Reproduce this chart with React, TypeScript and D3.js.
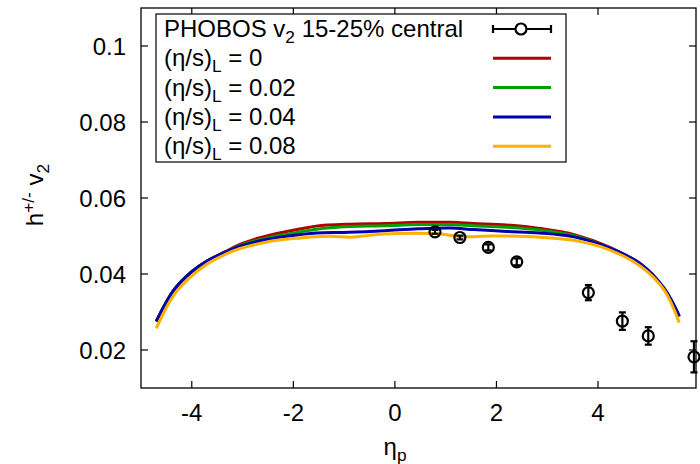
import * as d3 from "d3"

// PHOBOS v2 15-25% central
const dataEta = [0.79, 1.28, 1.84, 2.4, 3.81, 4.48, 4.99, 5.89]
const dataV2 = [0.0511, 0.0496, 0.047, 0.0432, 0.0351, 0.0276, 0.0237, 0.0182]
const dataErr = [0.0005, 0.0005, 0.0008, 0.0009, 0.002, 0.0023, 0.0023, 0.0041]

// model curves
const etaA = [-4.7, -4.35, -4.0, -3.7, -3.35, -3.05, -2.7, -2.45, -2.2, -1.85, -1.55, -0.9, -0.2, 0.45, 1.1, 1.55, 2.2, 2.85, 3.55, 4.2, 4.85, 5.3, 5.6]
const v2Eta0 = [0.0275, 0.0358, 0.0406, 0.0434, 0.0458, 0.0478, 0.0494, 0.0503, 0.051, 0.0519, 0.0526, 0.0531, 0.0533, 0.0536, 0.0536, 0.0533, 0.0529, 0.052, 0.0503, 0.0472, 0.0424, 0.0362, 0.0288]
const v2Eta002 = [0.0275, 0.0358, 0.0406, 0.0434, 0.0457, 0.0475, 0.0489, 0.0497, 0.0503, 0.0511, 0.0518, 0.0525, 0.0527, 0.053, 0.053, 0.0527, 0.0523, 0.0516, 0.05, 0.047, 0.0424, 0.0362, 0.0288]
const v2Eta004 = [0.0275, 0.0358, 0.0406, 0.0434, 0.0457, 0.0473, 0.0486, 0.0493, 0.0498, 0.0504, 0.0508, 0.051, 0.0514, 0.0519, 0.0521, 0.0517, 0.0512, 0.0508, 0.0497, 0.047, 0.0426, 0.0363, 0.029]
const etaB = [-4.7, -4.35, -4.0, -3.7, -3.35, -3.05, -2.7, -2.45, -2.2, -1.85, -1.55, -1.2, -0.9, -0.55, -0.2, 0.45, 0.9, 1.25, 1.55, 1.9, 2.2, 2.85, 3.55, 4.2, 4.85, 5.3, 5.6]
const v2Eta008 = [0.0257, 0.0345, 0.0395, 0.0426, 0.0451, 0.0467, 0.0479, 0.0486, 0.0491, 0.0495, 0.0498, 0.0499, 0.0497, 0.0501, 0.0505, 0.0507, 0.0505, 0.0499, 0.0498, 0.05, 0.05, 0.0497, 0.0488, 0.0465, 0.0419, 0.0358, 0.0272]

const xTicks = [-4, -2, 0, 2, 4]
const yTicks = [0.02, 0.04, 0.06, 0.08, 0.1]
const curveLabels = ["0", "0.02", "0.04", "0.08"]
const curveColors = ["#b00000", "#00a000", "#0000b0", "#ffb000"]

export default function App() {
    const width = 700
    const height = 464
    const margin = { top: 8, right: 4, bottom: 76, left: 141 }
    const innerW = width - margin.left - margin.right
    const innerH = height - margin.top - margin.bottom
    const font = "'Liberation Sans', Arial, sans-serif"
    const fs = 24

    const x = d3.scaleLinear().domain([-5, 5.93]).range([0, innerW])
    const y = d3.scaleLinear().domain([0.01, 0.11]).range([innerH, 0])

    const line = d3
        .line<[number, number]>()
        .x((d) => x(d[0]))
        .y((d) => y(d[1]))
        .curve(d3.curveCatmullRom.alpha(0.5))

    const curves = [
        { eta: etaA, v: v2Eta0 },
        { eta: etaA, v: v2Eta002 },
        { eta: etaA, v: v2Eta004 },
        { eta: etaB, v: v2Eta008 },
    ]

    const tick = 7
    const legX = 15
    const legRow = (i: number) => 21 + i * 29.3

    return (
        <svg
            width={width}
            height={height}
            style={{ position: "absolute", left: 0, top: 0, background: "#fff" }}
            fontFamily={font}
        >
            <g transform={`translate(${margin.left},${margin.top})`}>
                {/* Curves */}
                {curves.map((c, i) => (
                    <path
                        key={i}
                        d={line(c.eta.map((e, j) => [e, c.v[j]] as [number, number])) ?? ""}
                        fill="none"
                        stroke={curveColors[i]}
                        strokeWidth={3}
                    />
                ))}

                {/* PHOBOS points */}
                {dataEta.map((e, i) => {
                    const cx = x(e)
                    const cy = y(dataV2[i])
                    const y1 = y(dataV2[i] - dataErr[i])
                    const y2 = y(dataV2[i] + dataErr[i])
                    return (
                        <g key={i} stroke="#000" strokeWidth={2.2} fill="none">
                            <line x1={cx} x2={cx} y1={y1} y2={y2} />
                            <line x1={cx - 3.5} x2={cx + 3.5} y1={y1} y2={y1} />
                            <line x1={cx - 3.5} x2={cx + 3.5} y1={y2} y2={y2} />
                            <circle cx={cx} cy={cy} r={5.5} />
                        </g>
                    )
                })}

                {/* Frame */}
                <rect x={0} y={0} width={innerW} height={innerH} fill="none" stroke="#000" strokeWidth={1.3} />

                {/* X ticks */}
                {xTicks.map((t) => (
                    <g key={t} transform={`translate(${x(t)},0)`}>
                        <line y1={innerH} y2={innerH - tick} stroke="#000" strokeWidth={1.2} />
                        <line y1={0} y2={tick} stroke="#000" strokeWidth={1.2} />
                        <text y={innerH + 33} textAnchor="middle" fontSize={fs} fill="#000">
                            {t}
                        </text>
                    </g>
                ))}

                {/* Y ticks */}
                {yTicks.map((t) => (
                    <g key={t} transform={`translate(0,${y(t)})`}>
                        <line x1={0} x2={tick} stroke="#000" strokeWidth={1.2} />
                        <line x1={innerW} x2={innerW - tick} stroke="#000" strokeWidth={1.2} />
                        <text x={-15} dy="0.36em" textAnchor="end" fontSize={fs} fill="#000">
                            {t}
                        </text>
                    </g>
                ))}

                {/* Legend */}
                <rect x={legX} y={6} width={410} height={148} fill="#fff" stroke="#000" strokeWidth={1.2} />
                <text x={legX + 8} y={legRow(0) + 8} fontSize={fs} fill="#000">
                    PHOBOS v<tspan fontSize={fs * 0.72} dy={6}>2</tspan>
                    <tspan dy={-6}> 15-25% central</tspan>
                </text>
                <g stroke="#000" strokeWidth={2.2} fill="none">
                    <line x1={352} x2={410} y1={legRow(0)} y2={legRow(0)} />
                    <line x1={352} x2={352} y1={legRow(0) - 4} y2={legRow(0) + 4} />
                    <line x1={410} x2={410} y1={legRow(0) - 4} y2={legRow(0) + 4} />
                    <circle cx={380} cy={legRow(0)} r={5.5} fill="#fff" />
                </g>
                {curveLabels.map((l, i) => (
                    <g key={l}>
                        <text x={legX + 8} y={legRow(i + 1) + 8} fontSize={fs} fill="#000">
                            (η/s)<tspan fontSize={fs * 0.72} dy={6}>L</tspan>
                            <tspan dy={-6}> = {l}</tspan>
                        </text>
                        <line
                            x1={352}
                            x2={410}
                            y1={legRow(i + 1)}
                            y2={legRow(i + 1)}
                            stroke={curveColors[i]}
                            strokeWidth={3}
                        />
                    </g>
                ))}
            </g>

            {/* Axis labels */}
            <text x={395} y={455} textAnchor="middle" fontSize={fs} fill="#000">
                η<tspan fontSize={fs * 0.72} dy={6}>p</tspan>
            </text>
            <text transform="translate(43,195) rotate(-90)" textAnchor="middle" fontSize={fs} fill="#000">
                h<tspan fontSize={fs * 0.72} dy={-9}>+/-</tspan>
                <tspan dy={9}> v</tspan>
                <tspan fontSize={fs * 0.72} dy={6}>2</tspan>
            </text>
        </svg>
    )
}
